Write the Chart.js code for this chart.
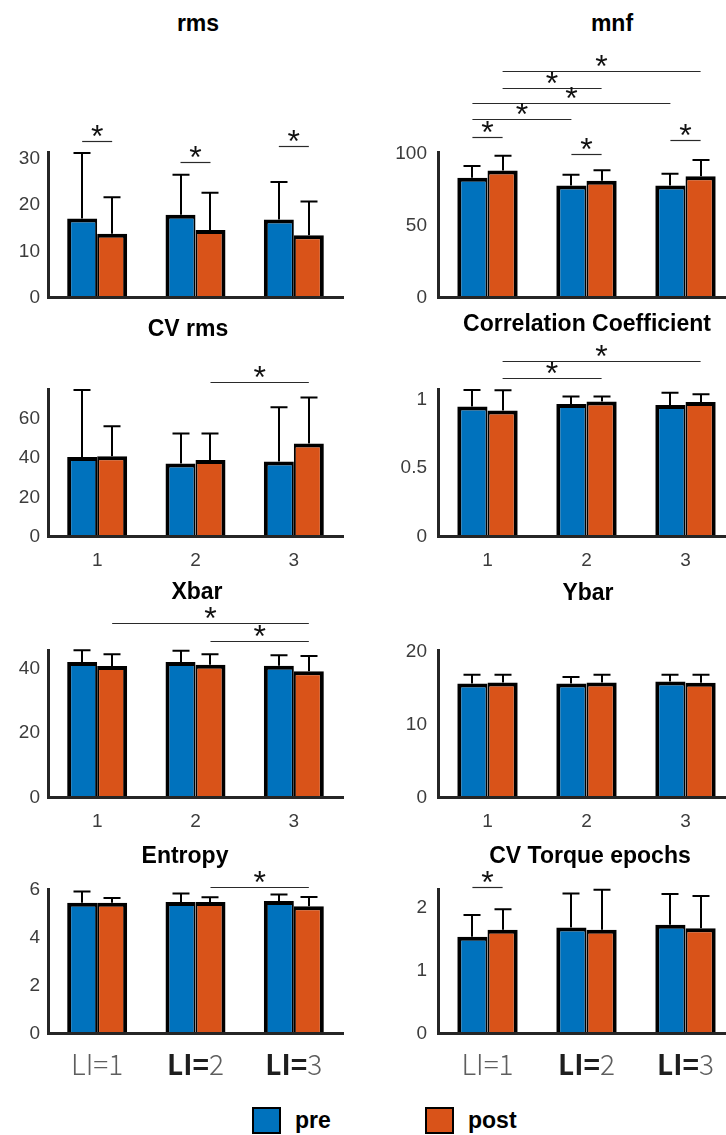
<!DOCTYPE html>
<html>
<head>
<meta charset="utf-8">
<script src="https://cdn.jsdelivr.net/npm/chart.js@4.4.1/dist/chart.umd.min.js"></script>
<style>
  html, body { margin: 0; padding: 0; background: #fff; }
  body { position: relative; width: 726px; height: 1135px; overflow: hidden; }
  canvas { position: absolute; }
  .title { position: absolute; font: bold 23px "Liberation Sans", Arial, sans-serif; line-height: 23px;
           color: #000; white-space: nowrap; transform: translateX(-50%); }
  .legend { position: absolute; display: flex; align-items: center; }
  .legend .sw { width: 25px; height: 23px; border: 2px solid #000; display: inline-block; }
  .legend .lt { font: bold 23px "Liberation Sans", Arial, sans-serif; line-height: 23px; color: #000; margin-left: 14px; }
</style>
</head>
<body>
<script>
// ---- data -------------------------------------------------------------
const categories = ['1', '2', '3'];
const seriesNames = ['pre', 'post'];

// rms
const rmsPre = [17.1, 17.9, 16.9];
const rmsPreSD = [14.2, 8.7, 8.1];
const rmsPost = [13.8, 14.6, 13.5];
const rmsPostSD = [7.9, 8.1, 7.3];
const rmsTicks = [0, 10, 20, 30];
// significant comparisons: [[group, series], [group, series], bar height]
const rmsSig = [[[0, 0], [0, 1], 33.8], [[1, 0], [1, 1], 29.4], [[2, 0], [2, 1], 32.8]];

// mnf
const mnfPre = [83.0, 77.7, 77.7];
const mnfPreSD = [8.2, 7.5, 8.2];
const mnfPost = [88.0, 81.0, 84.0];
const mnfPostSD = [10.3, 7.2, 11.4];
const mnfTicks = [0, 50, 100];
const mnfSig = [
  [[0, 1], [2, 1], 157.2], [[0, 1], [1, 1], 145.4], [[0, 0], [2, 0], 135.2],
  [[0, 0], [1, 0], 123.9], [[0, 0], [0, 1], 111.1], [[1, 0], [1, 1], 99.6],
  [[2, 0], [2, 1], 109.5]
];

// CV rms
const cvRmsPre = [40.5, 37.3, 38.3];
const cvRmsPreSD = [34.3, 15.3, 27.6];
const cvRmsPost = [41.0, 39.0, 47.5];
const cvRmsPostSD = [15.3, 13.6, 23.4];
const cvRmsTicks = [0, 20, 40, 60];
const cvRmsSig = [[[1, 1], [2, 1], 79.0]];

// Correlation Coefficient
const corrPre = [0.948, 0.968, 0.960];
const corrPreSD = [0.122, 0.054, 0.089];
const corrPost = [0.919, 0.985, 0.982];
const corrPostSD = [0.149, 0.037, 0.057];
const corrTicks = [0, 0.5, 1];
const corrSig = [[[0, 1], [2, 1], 1.282], [[0, 1], [1, 1], 1.158]];

// Xbar
const xbarPre = [42.1, 42.1, 40.9];
const xbarPreSD = [3.6, 3.5, 3.3];
const xbarPost = [40.8, 41.2, 39.2];
const xbarPostSD = [3.7, 3.3, 4.7];
const xbarTicks = [0, 20, 40];
const xbarSig = [[[0, 1], [2, 1], 54.1], [[1, 1], [2, 1], 48.5]];

// Ybar
const ybarPre = [15.6, 15.6, 15.9];
const ybarPreSD = [1.2, 0.9, 0.9];
const ybarPost = [15.75, 15.75, 15.7];
const ybarPostSD = [1.05, 1.05, 1.1];
const ybarTicks = [0, 10, 20];
const ybarSig = [];

// Entropy
const entPre = [5.48, 5.51, 5.55];
const entPreSD = [0.47, 0.35, 0.27];
const entPost = [5.48, 5.51, 5.33];
const entPostSD = [0.20, 0.20, 0.39];
const entTicks = [0, 2, 4, 6];
const entSig = [[[1, 1], [2, 1], 6.12]];

// CV Torque epochs
const cvtPre = [1.535, 1.68, 1.725];
const cvtPreSD = [0.345, 0.54, 0.485];
const cvtPost = [1.645, 1.645, 1.67];
const cvtPostSD = [0.325, 0.635, 0.51];
const cvtTicks = [0, 1, 2];
const cvtSig = [[[0, 0], [0, 1], 2.32]];

// ---- styling & layout ---------------------------------------------------
const PRE_COLOR = '#0072BD';
const POST_COLOR = '#D95319';
const AXIS_COLOR = '#262626';
const TICK_COLOR = '#3c3c3c';
const FONT = '"Liberation Sans", Arial, sans-serif';
Chart.defaults.font.family = FONT;

const COLS = [
  { x: 0,   w: 363, axisW: 48, padR: 20, tickPad: 8 },
  { x: 363, w: 390, axisW: 75, padR: 18, tickPad: 11 }
];
const ROWS = [
  { y: 0,   h: 320, padT: 152,  padB: 22.5, xAxisH: 0,    xMode: 'none' },
  { y: 330, h: 245, padT: 59.5, padB: 0,    xAxisH: 38.5, xMode: 'ticks' },
  { y: 600, h: 240, padT: 50,   padB: 0,    xAxisH: 42.5, xMode: 'ticks' },
  { y: 860, h: 225, padT: 29.3, padB: 51.5, xAxisH: 0,    xMode: 'li' }
];

const panels = [
  { title: 'rms', pre: rmsPre, preSD: rmsPreSD, post: rmsPost, postSD: rmsPostSD, ticks: rmsTicks, yMax: 31.5, sig: rmsSig, col: 0, row: 0, tx: 198, tb: 31 },
  { title: 'mnf', pre: mnfPre, preSD: mnfPreSD, post: mnfPost, postSD: mnfPostSD, ticks: mnfTicks, yMax: 100.9, sig: mnfSig, col: 1, row: 0, tx: 612, tb: 31 },
  { title: 'CV rms', pre: cvRmsPre, preSD: cvRmsPreSD, post: cvRmsPost, postSD: cvRmsPostSD, ticks: cvRmsTicks, yMax: 75, sig: cvRmsSig, col: 0, row: 1, tx: 188, tb: 336.7 },
  { title: 'Correlation Coefficient', pre: corrPre, preSD: corrPreSD, post: corrPost, postSD: corrPostSD, ticks: corrTicks, yMax: 1.073, sig: corrSig, col: 1, row: 1, tx: 587, tb: 331.7 },
  { title: 'Xbar', pre: xbarPre, preSD: xbarPreSD, post: xbarPost, postSD: xbarPostSD, ticks: xbarTicks, yMax: 45.8, sig: xbarSig, col: 0, row: 2, tx: 197, tb: 599.3 },
  { title: 'Ybar', pre: ybarPre, preSD: ybarPreSD, post: ybarPost, postSD: ybarPostSD, ticks: ybarTicks, yMax: 20.2, sig: ybarSig, col: 1, row: 2, tx: 588, tb: 600 },
  { title: 'Entropy', pre: entPre, preSD: entPreSD, post: entPost, postSD: entPostSD, ticks: entTicks, yMax: 6.04, sig: entSig, col: 0, row: 3, tx: 185, tb: 863.3 },
  { title: 'CV Torque epochs', pre: cvtPre, preSD: cvtPreSD, post: cvtPost, postSD: cvtPostSD, ticks: cvtTicks, yMax: 2.286, sig: cvtSig, col: 1, row: 3, tx: 590, tb: 863.3 }
];

// ---- plugins ------------------------------------------------------------
// upper standard-deviation whiskers
const errorBarPlugin = {
  id: 'errorBars',
  afterDatasetsDraw(chart) {
    const { ctx, scales: { y } } = chart;
    ctx.save();
    ctx.strokeStyle = '#000';
    ctx.lineWidth = 2;
    chart.data.datasets.forEach((ds, i) => {
      chart.getDatasetMeta(i).data.forEach((bar, j) => {
        const top = y.getPixelForValue(ds.data[j] + ds.sd[j]);
        const x = Math.round(bar.x);
        ctx.beginPath();
        ctx.moveTo(x, bar.y);
        ctx.lineTo(x, top);
        ctx.moveTo(x - 8.5, top);
        ctx.lineTo(x + 8.5, top);
        ctx.stroke();
      });
    });
    ctx.restore();
  }
};

// significance lines with asterisks
const sigPlugin = {
  id: 'sigMarks',
  afterDraw(chart, args, opts) {
    const pairs = opts.pairs || [];
    const { ctx, scales: { y } } = chart;
    ctx.save();
    pairs.forEach(([[ga, sa], [gb, sb], level]) => {
      const x1 = chart.getDatasetMeta(sa).data[ga].x;
      const x2 = chart.getDatasetMeta(sb).data[gb].x;
      const yy = Math.round(y.getPixelForValue(level)) + 0.5;
      ctx.strokeStyle = '#2a2a2a';
      ctx.lineWidth = 1.2;
      ctx.beginPath();
      ctx.moveTo(x1, yy);
      ctx.lineTo(x2, yy);
      ctx.stroke();
      ctx.fillStyle = '#111';
      ctx.font = '32px ' + FONT;
      ctx.textAlign = 'center';
      ctx.textBaseline = 'alphabetic';
      ctx.fillText('*', (x1 + x2) / 2, yy + 5);
    });
    ctx.restore();
  }
};

// "LI=n" group labels under the bottom row
const groupLabelPlugin = {
  id: 'groupLabels',
  afterDraw(chart, args, opts) {
    if (!opts.show) return;
    const { ctx, chartArea, scales: { x } } = chart;
    const base = chartArea.bottom + 41.5;
    const thin = { font: '300 28px "Noto Sans CJK SC", "Noto Sans", sans-serif', color: '#5e5e5e' };
    const bold = { font: 'bold 28px "Noto Sans CJK SC", "Noto Sans", sans-serif', color: '#1e1e1e' };
    ctx.save();
    ctx.textBaseline = 'alphabetic';
    ctx.textAlign = 'left';
    categories.forEach((c, i) => {
      const parts = i === 0 ? [['LI=' + c, thin]] : [['LI=', bold], [c, thin]];
      let total = 0;
      const widths = parts.map(([t, s]) => { ctx.font = s.font; const w = ctx.measureText(t).width; total += w; return w; });
      let cx = x.getPixelForTick(i) - total / 2;
      parts.forEach(([t, s], k) => {
        ctx.font = s.font;
        ctx.fillStyle = s.color;
        ctx.fillText(t, cx, base);
        cx += widths[k];
      });
    });
    ctx.restore();
  }
};

// ---- build panels -------------------------------------------------------
panels.forEach(p => {
  const col = COLS[p.col];
  const row = ROWS[p.row];

  const title = document.createElement('div');
  title.className = 'title';
  title.textContent = p.title;
  title.style.left = p.tx + 'px';
  title.style.top = (p.tb - 19.5) + 'px';
  document.body.appendChild(title);

  const cv = document.createElement('canvas');
  cv.width = col.w;
  cv.height = row.h;
  cv.style.left = col.x + 'px';
  cv.style.top = row.y + 'px';
  cv.style.width = col.w + 'px';
  cv.style.height = row.h + 'px';
  document.body.appendChild(cv);

  const barStyle = { borderColor: '#000', borderSkipped: false, categoryPercentage: 0.61, barPercentage: 1 };

  new Chart(cv, {
    type: 'bar',
    data: {
      labels: categories,
      datasets: [
        Object.assign({ label: seriesNames[0], data: p.pre, sd: p.preSD, backgroundColor: PRE_COLOR,
          borderWidth: { top: 4, left: 4, right: 2, bottom: 0 } }, barStyle),
        Object.assign({ label: seriesNames[1], data: p.post, sd: p.postSD, backgroundColor: POST_COLOR,
          borderWidth: { top: 4, left: 2, right: 4, bottom: 0 } }, barStyle)
      ]
    },
    options: {
      responsive: false,
      animation: false,
      devicePixelRatio: 1,
      layout: { padding: { top: row.padT, bottom: row.padB, left: 0, right: col.padR } },
      plugins: {
        legend: { display: false },
        title: { display: false },
        tooltip: { enabled: false },
        sigMarks: { pairs: p.sig },
        groupLabels: { show: row.xMode === 'li' }
      },
      scales: {
        x: {
          grid: { display: false, drawTicks: false },
          border: { display: true, color: AXIS_COLOR, width: 3, z: 1 },
          ticks: { display: row.xMode === 'ticks', color: TICK_COLOR, font: { size: 19 }, padding: 13,
                   autoSkip: false, maxRotation: 0 },
          afterFit: s => { s.height = row.xAxisH; }
        },
        y: {
          min: 0,
          max: p.yMax,
          grid: { display: false, drawTicks: false },
          border: { display: true, color: AXIS_COLOR, width: 3, z: 1 },
          ticks: { color: TICK_COLOR, font: { size: 19 }, padding: col.tickPad, callback: v => String(v) },
          afterBuildTicks: s => { s.ticks = p.ticks.map(v => ({ value: v })); },
          afterFit: s => { s.width = col.axisW; }
        }
      }
    },
    plugins: [errorBarPlugin, sigPlugin, groupLabelPlugin]
  });
});

// ---- legend -------------------------------------------------------------
[[seriesNames[0], PRE_COLOR, 252], [seriesNames[1], POST_COLOR, 425]].forEach(([name, color, left]) => {
  const item = document.createElement('div');
  item.className = 'legend';
  item.style.left = left + 'px';
  item.style.top = '1107px';
  const sw = document.createElement('span');
  sw.className = 'sw';
  sw.style.background = color;
  const lt = document.createElement('span');
  lt.className = 'lt';
  lt.textContent = name;
  item.appendChild(sw);
  item.appendChild(lt);
  document.body.appendChild(item);
});
</script>
</body>
</html>
